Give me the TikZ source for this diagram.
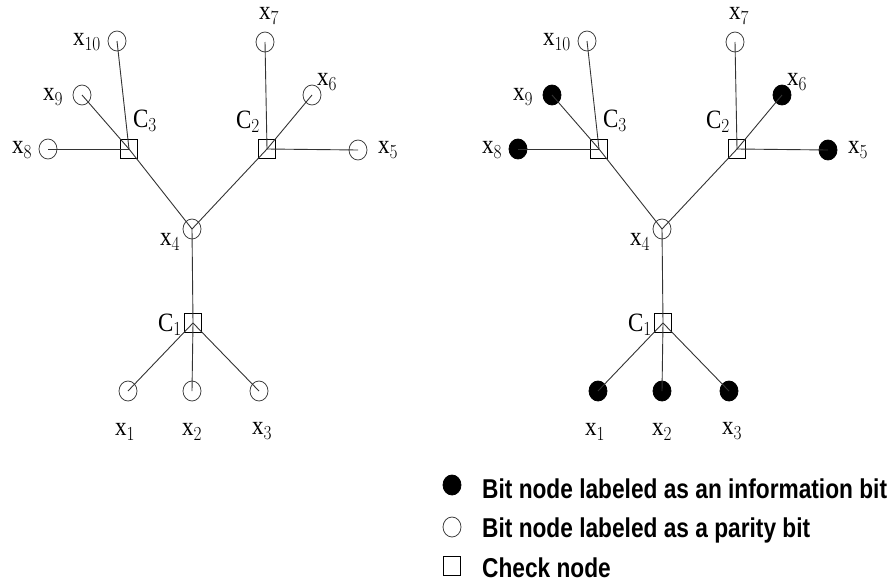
\documentclass[tikz,border=0pt]{standalone}
\usepackage{fontspec}
\setmainfont{Liberation Serif}
\newfontfamily\legendfont{Liberation Sans}
\usetikzlibrary{shapes.geometric,positioning}
\tikzset{
    bitnode/.style={ellipse, draw=black!75, line width=0.8pt, minimum width=18pt, minimum height=20pt, inner sep=0pt},
    infonode/.style={bitnode, draw=black, fill=black},
    checknode/.style={rectangle, draw=black, line width=0.8pt, minimum width=17pt, minimum height=19pt, inner sep=0pt},
    edge/.style={draw=black!80, line width=0.9pt},
    lbl/.style={font=\fontsize{23}{23}\selectfont, inner sep=0pt},
    legendtext/.style={font=\legendfont\bfseries\fontsize{22.7}{24}\selectfont, anchor=base west, inner sep=0pt}
}
\newcommand{\xlbl}[1]{\scalebox{1}[1.15]{$\mathrm{x}_{#1}$}}
\newcommand{\clbl}[1]{\scalebox{1}[1.15]{$\mathrm{C}_{#1}$}}
% one tree: #1 = shift, #2 = name prefix, #3 = style of information bits
\newcommand{\drawTanner}[3]{
    \begin{scope}[xshift=#1pt, name prefix=#2-]
        \node[bitnode] (x4) at (192,229) {};
        \node[checknode] (c1) at (193,323) {};
        \node[checknode] (c2) at (267,149) {};
        \node[checknode] (c3) at (129,149) {};
        \node[#3] (x1) at (128,391) {};
        \node[#3] (x2) at (192,391) {};
        \node[#3] (x3) at (259,391) {};
        \node[#3] (x5) at (358,150) {};
        \node[#3] (x6) at (312,95) {};
        \node[bitnode] (x7) at (265,42) {};
        \node[#3] (x8) at (48,149) {};
        \node[#3] (x9) at (82,95) {};
        \node[bitnode] (x10) at (117,41) {};

        \draw[edge] (c1.center) -- (x1.center);
        \draw[edge] (c1.center) -- (x2.center);
        \draw[edge] (c1.center) -- (x3.center);
        \draw[edge] (c1.center) -- (x4.center);
        \draw[edge] (x4.center) -- (c2.center);
        \draw[edge] (x4.center) -- (c3.center);
        \draw[edge] (c2.center) -- (x5.center);
        \draw[edge] (c2.center) -- (x6.center);
        \draw[edge] (c2.center) -- (x7.center);
        \draw[edge] (c3.center) -- (x8.center);
        \draw[edge] (c3.center) -- (x9.center);
        \draw[edge] (c3.center) -- (x10.center);

        \node[lbl] (lx1) at (125,432) {\xlbl{1}};
        \node[lbl] (lx2) at (192,432) {\xlbl{2}};
        \node[lbl] (lx3) at (262,431) {\xlbl{3}};
        \node[lbl] (lx4) at (170,242) {\xlbl{4}};
        \node[lbl] (lx5) at (388,150) {\xlbl{5}};
        \node[lbl] (lx6) at (327,82) {\xlbl{6}};
        \node[lbl] (lx7) at (269,16) {\xlbl{7}};
        \node[lbl] (lx8) at (22,150) {\xlbl{8}};
        \node[lbl] (lx9) at (53,97) {\xlbl{9}};
        \node[lbl] (lx10) at (87,42) {\xlbl{10}};
        \node[lbl] (lc1) at (170,325) {\clbl{1}};
        \node[lbl] (lc2) at (248,122) {\clbl{2}};
        \node[lbl] (lc3) at (145,121) {\clbl{3}};
    \end{scope}
}

\begin{document}
\begin{tikzpicture}[x=1pt, y=-1pt]
    \useasboundingbox (0,0) rectangle (896,584);

    \drawTanner{0}{L}{bitnode}
    \drawTanner{470}{R}{infonode}

    % legend
    \node[infonode] (keyinfo) at (452,485) {};
    \node[bitnode] (keyparity) at (452,527) {};
    \node[checknode] (keycheck) at (452,566) {};
    \node[legendtext] (txtinfo) at (482,498) {\scalebox{1}[1.2]{Bit node labeled as an information bit}};
    \node[legendtext] (txtparity) at (482,537) {\scalebox{1}[1.2]{Bit node labeled as a parity bit}};
    \node[legendtext] (txtcheck) at (482,577) {\scalebox{1}[1.2]{Check node}};
\end{tikzpicture}
\end{document}
